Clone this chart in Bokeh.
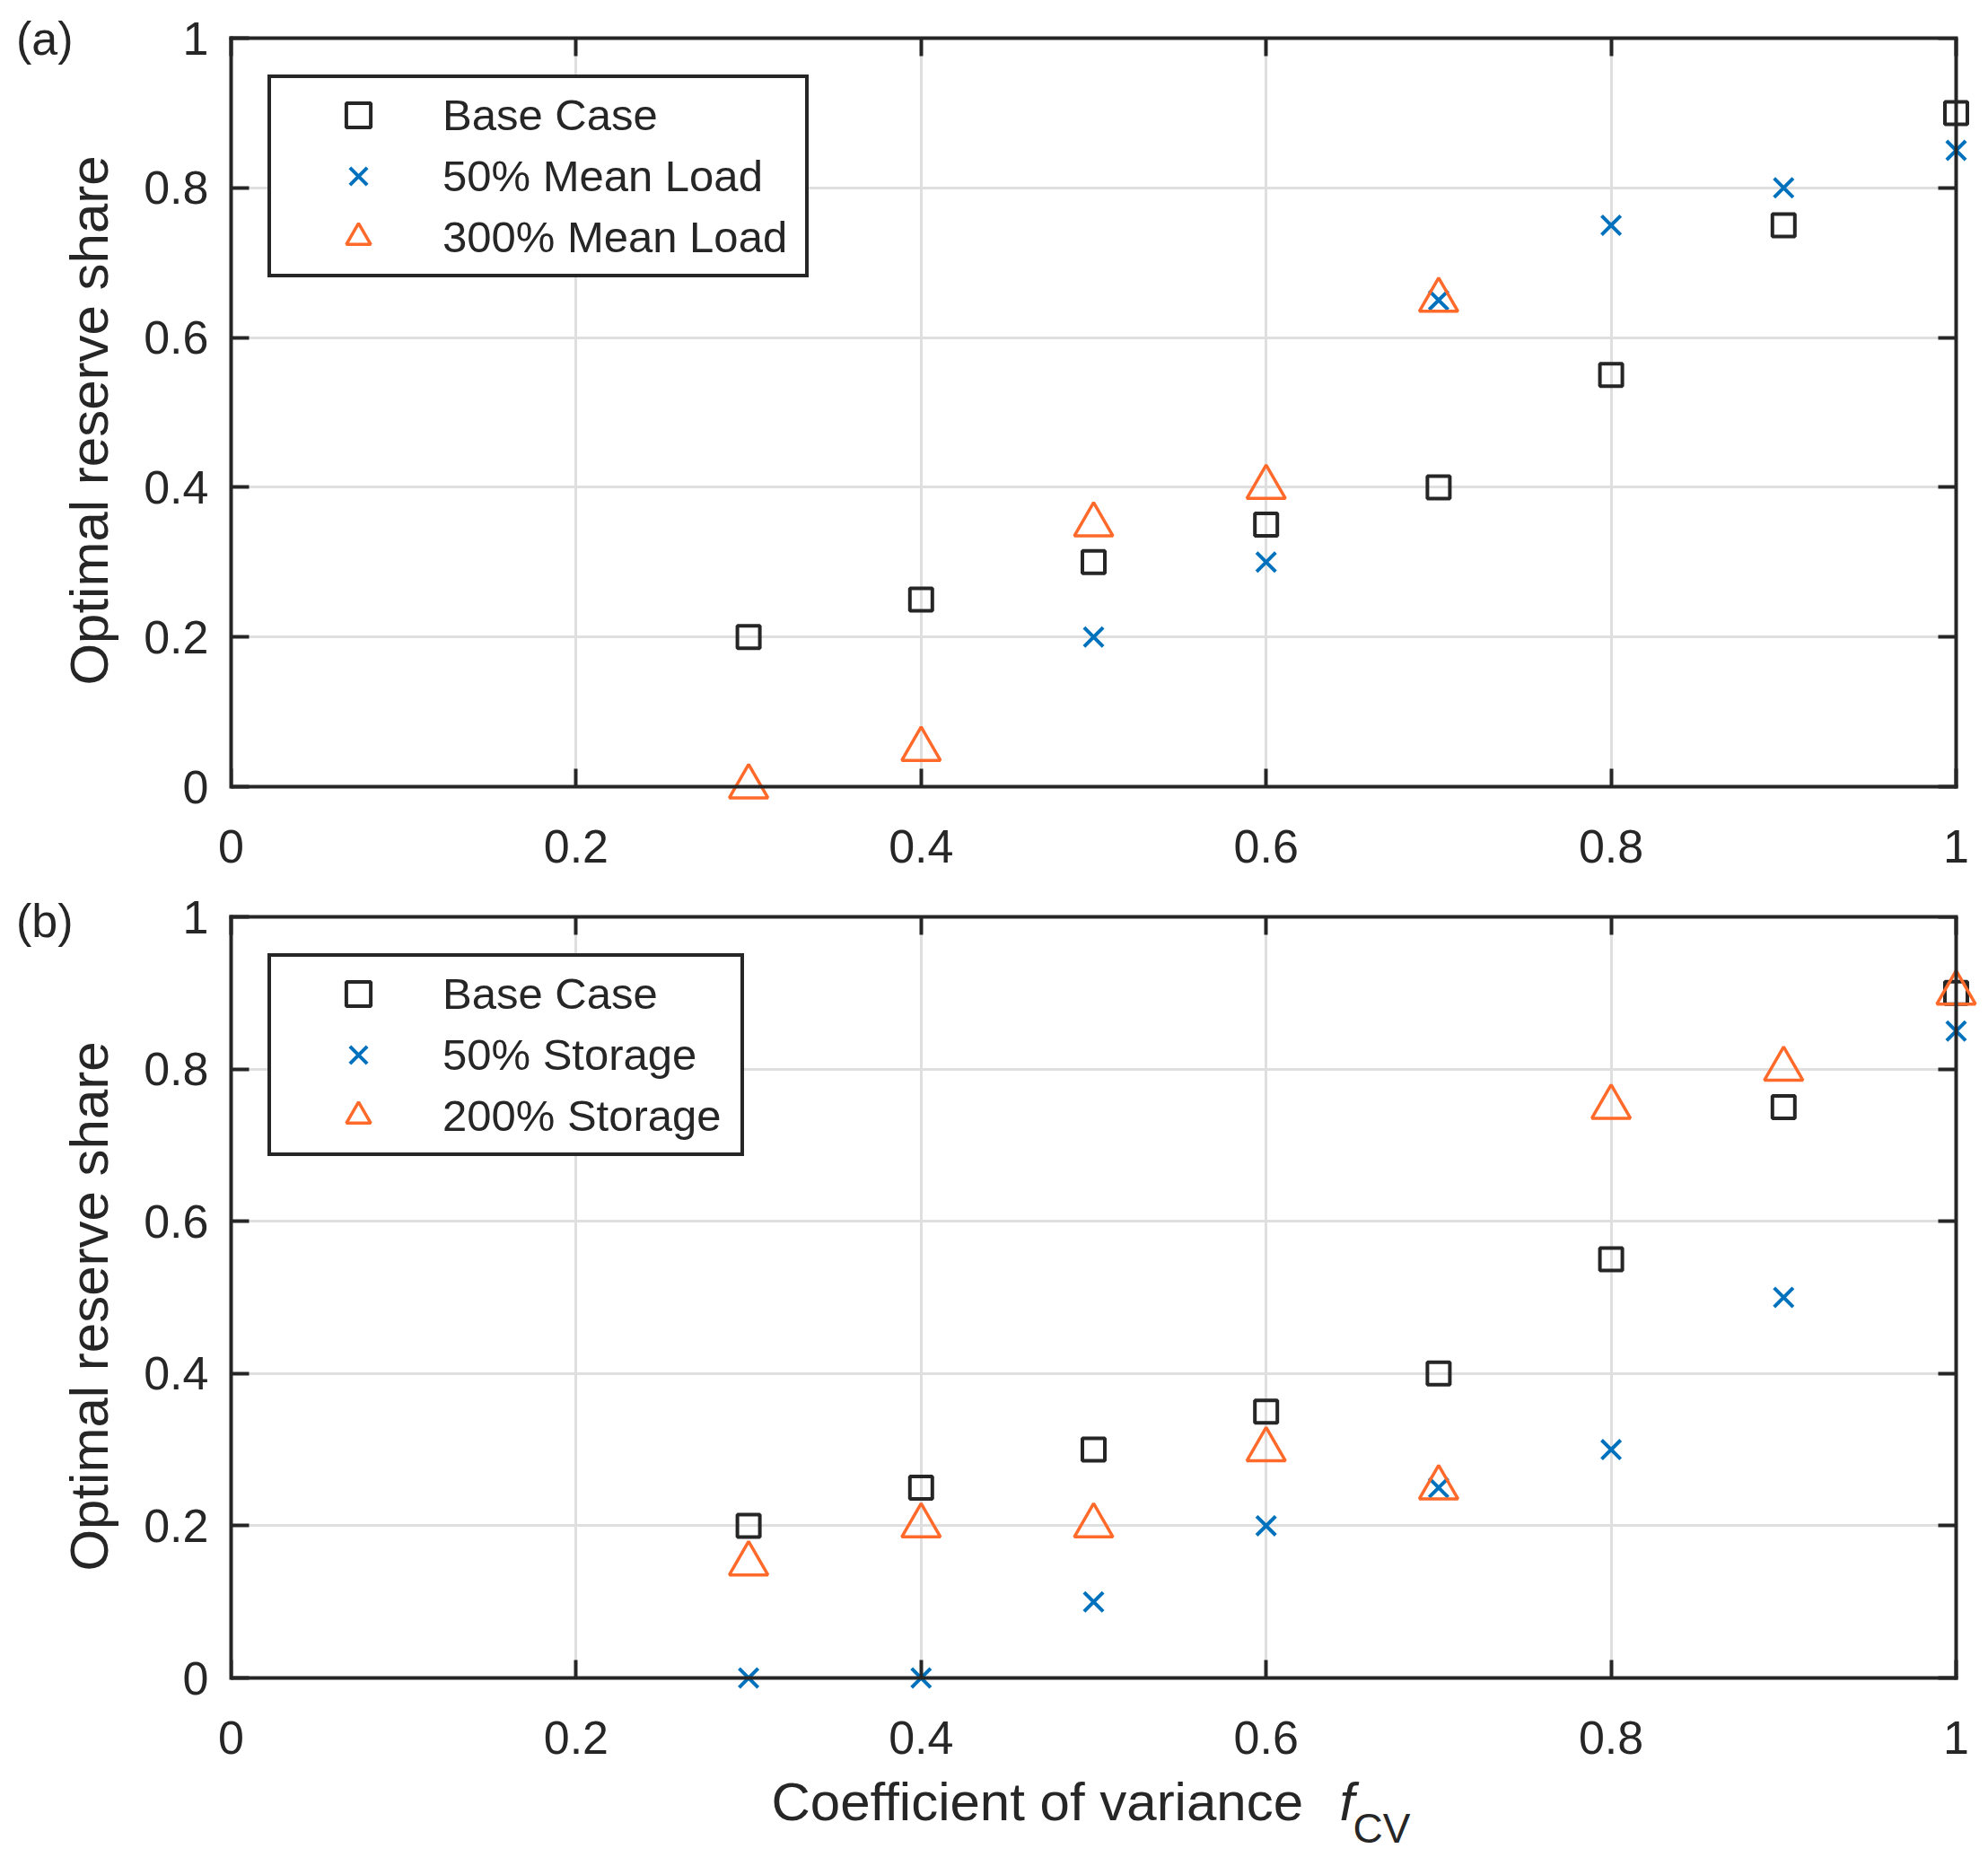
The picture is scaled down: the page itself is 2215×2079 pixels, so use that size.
from bokeh.plotting import figure
from bokeh.models import Range1d, LinearAxis, FixedTicker, Legend, LegendItem, Label
from bokeh.layouts import column
from bokeh.embed import file_html
from bokeh.resources import INLINE

# ---------------- data ----------------
fcv = [0.3, 0.4, 0.5, 0.6, 0.7, 0.8, 0.9, 1.0]
base_case = [0.2, 0.25, 0.3, 0.35, 0.4, 0.55, 0.75, 0.9]

load50_x = [0.5, 0.6, 0.7, 0.8, 0.9, 1.0]
load50 = [0.2, 0.3, 0.65, 0.75, 0.8, 0.85]
load300_x = [0.3, 0.4, 0.5, 0.6, 0.7]
load300 = [0.0, 0.05, 0.35, 0.4, 0.65]

storage50 = [0.0, 0.0, 0.1, 0.2, 0.25, 0.3, 0.5, 0.85]
storage200 = [0.15, 0.2, 0.2, 0.3, 0.25, 0.75, 0.8, 0.9]

ticks = [0, 0.2, 0.4, 0.6, 0.8, 1.0]
tick_labels = ["0", "0.2", "0.4", "0.6", "0.8", "1"]

legend_a = ["Base Case", "50% Mean Load", "300% Mean Load"]
legend_b = ["Base Case", "50% Storage", "200% Storage"]

# ---------------- style ----------------
FONT = "Liberation Sans"
DARK = "#262626"
BLUE = "#0072BD"
ORANGE = "#FF6A2B"
GRID = "#dfdfdf"

PAGE_W, PAGE_H = 2215, 2079
LEFT = 257
BOX_W = 1922           # pixel width of the 0..1 box
PAD_R = 24             # room for markers sitting on the right edge
RIGHT = PAGE_W - LEFT - BOX_W - PAD_R

A_TOP, A_BOX, A_PAD, A_BOTTOM = 42, 834, 18, 100
B_TOP, B_BOX, B_PAD, B_BOTTOM = 27, 848, 20, 85
H_A = A_TOP + A_BOX + A_PAD + A_BOTTOM
H_B = B_TOP + B_BOX + B_PAD + B_BOTTOM
FOOT_H = PAGE_H - H_A - H_B


def hidden_label_axis(**kw):
    return LinearAxis(ticker=FixedTicker(ticks=ticks), major_label_text_font_size="1px",
                      major_label_text_color=None, major_label_standoff=0,
                      major_tick_in=20, major_tick_out=0, major_tick_line_width=4,
                      major_tick_line_color=DARK, minor_tick_line_color=None,
                      axis_line_color=DARK, axis_line_width=4, axis_line_cap="square",
                      bounds=(0, 1), **kw)


def make_panel(series, labels, tag, height, top, bottom, box_h, pad_b, label_width):
    p = figure(width=PAGE_W, height=height, output_backend="svg", toolbar_location=None,
               x_range=Range1d(0, 1 + PAD_R / BOX_W),
               y_range=Range1d(-pad_b / box_h, 1),
               min_border_left=LEFT, min_border_right=RIGHT,
               min_border_top=top, min_border_bottom=bottom)
    p.background_fill_color = "white"
    p.border_fill_color = "white"
    p.outline_line_color = None

    overrides = {t: s for t, s in zip(ticks, tick_labels)}

    # y axis at the frame's left edge (x = 0)
    ya = p.yaxis[0]
    ya.ticker = FixedTicker(ticks=ticks)
    ya.bounds = (0, 1)
    ya.major_label_overrides = overrides
    ya.major_label_text_font = FONT
    ya.major_label_text_font_size = "52px"
    ya.major_label_text_color = DARK
    ya.major_label_standoff = 25
    ya.major_tick_in = 20
    ya.major_tick_out = 0
    ya.major_tick_line_width = 4
    ya.major_tick_line_color = DARK
    ya.minor_tick_line_color = None
    ya.axis_line_color = DARK
    ya.axis_line_width = 4
    ya.axis_line_cap = "square"
    ya.axis_label = "Optimal reserve share"
    ya.axis_label_text_font = FONT
    ya.axis_label_text_font_size = "60px"
    ya.axis_label_text_font_style = "normal"
    ya.axis_label_text_color = DARK
    ya.axis_label_standoff = 24

    # x tick labels: this axis sits at the frame bottom, pad_b px below y = 0
    xa = p.xaxis[0]
    xa.ticker = FixedTicker(ticks=ticks)
    xa.major_label_overrides = overrides
    xa.major_label_text_font = FONT
    xa.major_label_text_font_size = "52px"
    xa.major_label_text_color = DARK
    xa.major_label_standoff = 42 - pad_b
    xa.major_tick_line_color = None
    xa.minor_tick_line_color = None
    xa.axis_line_color = None

    # box edges with inward ticks at y = 0, x = 1 and y = 1
    p.add_layout(hidden_label_axis(fixed_location=0), "below")
    p.add_layout(hidden_label_axis(fixed_location=1), "right")
    p.add_layout(hidden_label_axis(), "above")

    # panel tag "(a)" / "(b)" beside the top of the y axis
    p.add_layout(LinearAxis(ticker=FixedTicker(ticks=[1]), major_label_overrides={1: tag},
                            major_label_text_font=FONT, major_label_text_font_size="52px",
                            major_label_text_color=DARK, major_label_standoff=-24,
                            major_tick_line_color=None, minor_tick_line_color=None,
                            axis_line_color=None), "left")

    p.xgrid.ticker = FixedTicker(ticks=ticks)
    p.ygrid.ticker = FixedTicker(ticks=ticks)
    for g in [p.xgrid[0], p.ygrid[0]]:
        g.grid_line_color = GRID
        g.grid_line_width = 3
        g.bounds = (0, 1)
        if "cross_bounds" in g.properties():
            g.cross_bounds = (0, 1)

    (x1, y1), (x2, y2), (x3, y3) = series
    rends = [
        p.scatter(x1, y1, marker="square", size=25, fill_color=None,
                  line_color=DARK, line_width=4),
        p.scatter(x2, y2, marker="x", size=30, line_color=BLUE, line_width=4),
        p.scatter(x3, y3, marker="triangle", size=43, fill_color=None,
                  line_color=ORANGE, line_width=3.5),
    ]

    legend = Legend(items=[LegendItem(label=l, renderers=[r]) for l, r in zip(labels, rends)],
                    location="top_left", margin=41, padding=7, spacing=0,
                    glyph_width=180, glyph_height=68, label_height=68,
                    label_standoff=4, label_width=label_width,
                    label_text_font=FONT, label_text_font_size="49px",
                    label_text_color=DARK, border_line_color=DARK,
                    border_line_width=4, border_line_alpha=1,
                    background_fill_color="white", background_fill_alpha=1)
    p.add_layout(legend)
    return p


pa = make_panel([(fcv, base_case), (load50_x, load50), (load300_x, load300)],
                legend_a, "(a)", H_A, A_TOP, A_BOTTOM, A_BOX, A_PAD, 397)
pb = make_panel([(fcv, base_case), (fcv, storage50), (fcv, storage200)],
                legend_b, "(b)", H_B, B_TOP, B_BOTTOM, B_BOX, B_PAD, 325)

# footer holding the x-axis title "Coefficient of variance  f_CV"
# (its frame is aligned with the panels' frames, so x is measured from the box's left edge)
foot = figure(width=PAGE_W, height=FOOT_H, output_backend="svg", toolbar_location=None,
              x_range=Range1d(0, 1), y_range=Range1d(0, 1),
              x_axis_type=None, y_axis_type=None, min_border=0)
foot.outline_line_color = None
foot.background_fill_color = "white"
foot.add_layout(Label(x=602, y=72, x_units="screen", y_units="screen",
                      text="Coefficient of variance", text_font=FONT, text_font_size="60px",
                      text_color=DARK, text_baseline="alphabetic", text_align="left"))
foot.add_layout(Label(x=1235, y=72, x_units="screen", y_units="screen",
                      text="f", text_font=FONT, text_font_size="60px", text_font_style="italic",
                      text_color=DARK, text_baseline="alphabetic", text_align="left"))
foot.add_layout(Label(x=1250, y=43, x_units="screen", y_units="screen",
                      text="CV", text_font=FONT, text_font_size="46px",
                      text_color=DARK, text_baseline="alphabetic", text_align="left"))

layout = column(pa, pb, foot)
open("out.html", "w").write(file_html(layout, INLINE))
